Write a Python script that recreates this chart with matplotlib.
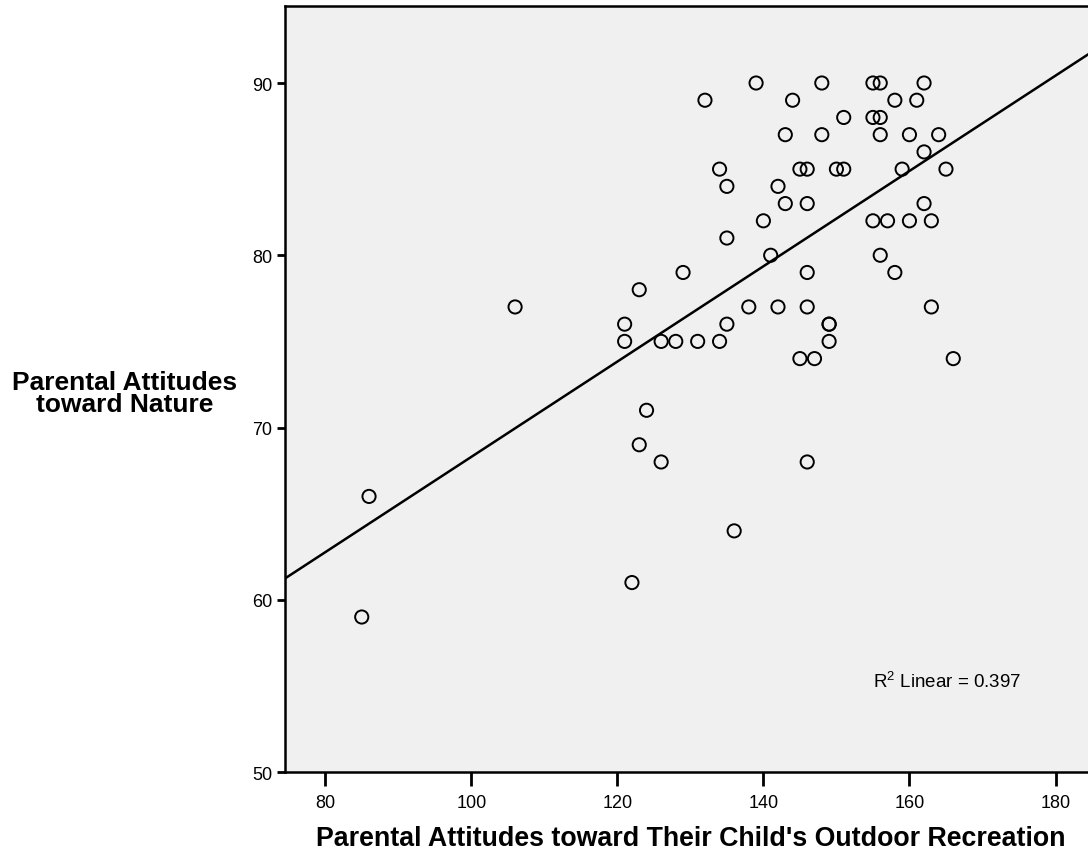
import numpy as np
import matplotlib
matplotlib.use("Agg")
import matplotlib.pyplot as plt

# values (x = outdoor recreation score, y = nature score)
outdoor = [139, 148, 155, 156, 162,
           132, 144, 158, 161,
           151, 155, 156,
           143, 148, 156, 160, 164,
           162,
           134, 145, 146, 150, 151, 159, 165,
           135, 142,
           143, 146, 162,
           140, 155, 157, 160, 163,
           135,
           141, 156,
           129, 146, 158,
           123,
           106, 138, 142, 146, 163,
           121, 135, 149, 149,
           121, 126, 128, 131, 134, 149,
           145, 147, 166,
           124, 123, 126, 146, 86, 136, 122, 85]
nature = [90, 90, 90, 90, 90,
          89, 89, 89, 89,
          88, 88, 88,
          87, 87, 87, 87, 87,
          86,
          85, 85, 85, 85, 85, 85, 85,
          84, 84,
          83, 83, 83,
          82, 82, 82, 82, 82,
          81,
          80, 80,
          79, 79, 79,
          78,
          77, 77, 77, 77, 77,
          76, 76, 76, 76,
          75, 75, 75, 75, 75, 75,
          74, 74, 74,
          71, 69, 68, 68, 66, 64, 61, 59]
r2_text = "R$^2$ Linear = 0.397"
xticks = [80, 100, 120, 140, 160, 180]
yticks = [50, 60, 70, 80, 90]

plt.rcParams['font.family'] = ['Liberation Sans', 'DejaVu Sans']
plt.rcParams['mathtext.fontset'] = 'custom'
plt.rcParams['mathtext.rm'] = 'Liberation Sans'

fig = plt.figure(figsize=(10.88, 8.54), dpi=100)
ax = fig.add_axes([0.262, 0.0948, 0.738, 0.8970])
ax.set_facecolor("#f0f0f0")

ax.scatter(outdoor, nature, s=90, facecolors="none", edgecolors="black", linewidths=1.4, zorder=3)

# least squares line over the full x range
xlim = (74.5, 184.45)
slope, icpt = np.polyfit(outdoor, nature, 1)
xs = np.array(xlim)
ax.plot(xs, slope * xs + icpt, color="black", lw=1.8, zorder=2)

ax.set_xlim(*xlim)
ax.set_ylim(50, 94.47)
ax.set_xticks(xticks)
ax.set_yticks(yticks)
ax.tick_params(axis="x", length=10, width=2, labelsize=13, pad=6)
ax.tick_params(axis="y", length=6, width=2, labelsize=13, pad=3)
for s in ["left", "bottom", "top"]:
    ax.spines[s].set_linewidth(1.8)
ax.spines["right"].set_visible(False)

fig.text(691 / 1088, 1 - 846 / 854, "Parental Attitudes toward Their Child's Outdoor Recreation",
         ha="center", va="baseline", fontsize=19.3, fontweight="bold")
fig.text(125 / 1088, 1 - 394 / 854, "Parental Attitudes\ntoward Nature", ha="center", va="center",
         fontsize=19, fontweight="bold", linespacing=0.9)

ax.text(0.732, 0.119, r2_text, transform=ax.transAxes, fontsize=13.5, ha="left", va="center")

fig.savefig("out.png", dpi=100)
